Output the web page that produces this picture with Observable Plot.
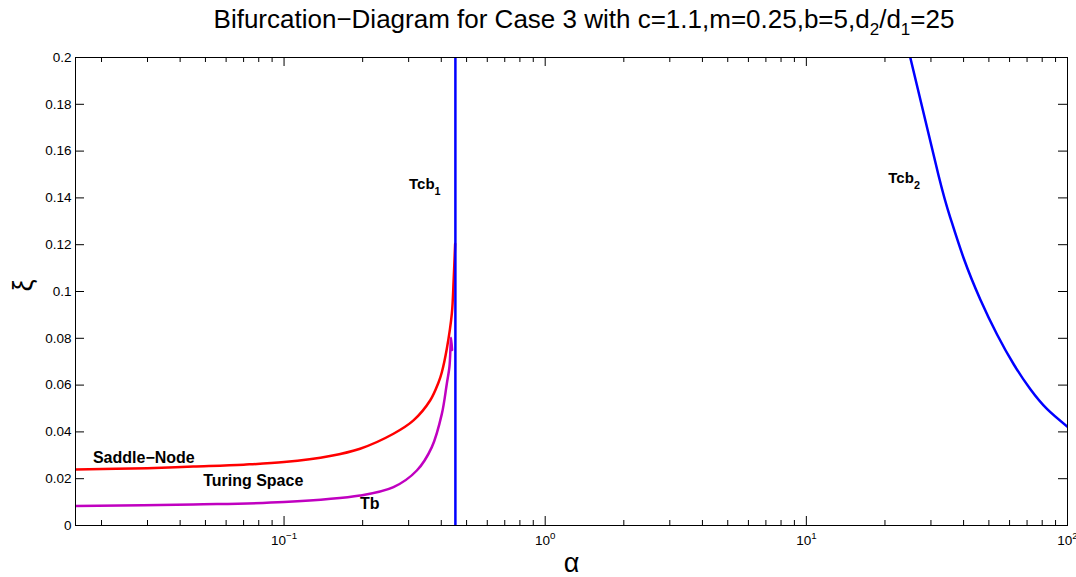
<!DOCTYPE html>
<html><head><meta charset="utf-8">
<script src="https://cdn.jsdelivr.net/npm/d3@7"></script>
<script src="https://cdn.jsdelivr.net/npm/@observablehq/plot@0.6"></script>
<style>
body{margin:0;background:#fff;}
#title{width:1076px;height:35px;box-sizing:border-box;padding-left:92px;text-align:center;font-family:"Liberation Sans",Arial,sans-serif;font-size:26px;line-height:39px;white-space:nowrap;color:#000;overflow:visible;}
#title sub{font-size:17px;line-height:0;vertical-align:-7px;}
</style></head><body>
<div id="title">Bifurcation−Diagram for Case 3 with c=1.1,m=0.25,b=5,d<sub>2</sub>/d<sub>1</sub>=25</div>
<div id="chart"></div>
<script>
// Saddle-Node curve (red)
const snAlpha = [0.0159, 0.03, 0.0449, 0.07, 0.1, 0.15, 0.1955, 0.2624, 0.313, 0.3625, 0.390, 0.402, 0.420, 0.439, 0.446, 0.452];
const snXi    = [0.0239, 0.0245, 0.0252, 0.0260, 0.0271, 0.0297, 0.0328, 0.0392, 0.0449, 0.0534, 0.0610, 0.0655, 0.0755, 0.0905, 0.1047, 0.1204];
// Turing bifurcation curve (magenta)
const tbAlpha = [0.0159, 0.0449, 0.1, 0.1955, 0.2624, 0.3224, 0.368, 0.402, 0.420, 0.430, 0.434, 0.436, 0.440];
const tbXi    = [0.0083, 0.0090, 0.0100, 0.0128, 0.0164, 0.0235, 0.0335, 0.0477, 0.0606, 0.0680, 0.0765, 0.0802, 0.0750];
// Turing-Hopf curve 1 (vertical, blue)
const tcb1Alpha = [0.453];
// Turing-Hopf curve 2 (blue)
const tcb2Alpha = [25.0, 32.1, 35.6, 40.1, 46.4, 53.8, 62.3, 72.1, 83.6, 100];
const tcb2Xi    = [0.2, 0.1495, 0.1315, 0.1140, 0.0965, 0.0815, 0.0688, 0.0582, 0.0497, 0.0422];
// axes
const yTicks = [0, 0.02, 0.04, 0.06, 0.08, 0.1, 0.12, 0.14, 0.16, 0.18, 0.2];
const yTickLabels = ["0","0.02","0.04","0.06","0.08","0.1","0.12","0.14","0.16","0.18","0.2"];
const xMajor = [0.1, 1, 10, 100];
const xTickLabels = ["10^−1","10^0","10^1","10^2"];
const xMinor = [0.02,0.03,0.04,0.05,0.06,0.07,0.08,0.09,0.2,0.3,0.4,0.5,0.6,0.7,0.8,0.9,2,3,4,5,6,7,8,9,20,30,40,50,60,70,80,90];
// annotations
const labelText  = ["Saddle−Node","Turing Space","Tb","Tcb_1","Tcb_2"];
const labelAlpha = [0.01854, 0.0490, 0.1955, 0.301, 20.6];
const labelXi    = [0.0291, 0.0192, 0.0094, 0.1457, 0.1483];

const W = 1076, H = 542, mL = 75, mR = 9, mT = 22, mB = 52;
const PW = W - mL - mR, PH = H - mT - mB;
const sn = snAlpha.map((a,i)=>({alpha:a, xi:snXi[i]}));
const tb = tbAlpha.map((a,i)=>({alpha:a, xi:tbXi[i]}));
const tcb2 = tcb2Alpha.map((a,i)=>({alpha:a, xi:tcb2Xi[i]}));
const yt = yTicks.map((v,i)=>({v, l:yTickLabels[i]}));
const xt = xMajor.map((v,i)=>({v, l:xTickLabels[i]}));
const labels = labelText.map((t,i)=>({t, a:labelAlpha[i], x:labelXi[i]}));

const svg = Plot.plot({
  width: W, height: H, marginLeft: mL, marginRight: mR, marginTop: mT, marginBottom: mB,
  style: {fontFamily: '"Liberation Sans", Arial, sans-serif', fontSize: "13px", background: "white", color: "black", overflow: "visible"},
  x: {type: "log", domain: [0.0159, 100], axis: null},
  y: {domain: [0, 0.2], axis: null},
  marks: [
    Plot.line(sn, {x: "alpha", y: "xi", stroke: "#ff0000", strokeWidth: 2.5, curve: "catmull-rom", clip: true}),
    Plot.line(tb, {x: "alpha", y: "xi", stroke: "#c000c0", strokeWidth: 2.5, curve: "catmull-rom", clip: true}),
    Plot.ruleX(tcb1Alpha, {x: d => d, stroke: "#0000ff", strokeWidth: 2.5}),
    Plot.line(tcb2, {x: "alpha", y: "xi", stroke: "#0000ff", strokeWidth: 2.5, curve: "natural", clip: true}),
    // ticks
    Plot.tickX(xMajor, {x: d => d, insetTop: PH - 9, stroke: "black"}),
    Plot.tickX(xMajor, {x: d => d, insetBottom: PH - 9, stroke: "black"}),
    Plot.tickX(xMinor, {x: d => d, insetTop: PH - 5, stroke: "black"}),
    Plot.tickX(xMinor, {x: d => d, insetBottom: PH - 5, stroke: "black"}),
    Plot.tickY(yTicks, {y: d => d, insetRight: PW - 9, stroke: "black"}),
    Plot.tickY(yTicks, {y: d => d, insetLeft: PW - 9, stroke: "black"}),
    Plot.frame({stroke: "black", strokeWidth: 1}),
    // tick labels
    Plot.text(yt, {y: "v", text: "l", frameAnchor: "left", textAnchor: "end", dx: -4, fontSize: 13.5}),
    Plot.text(xt, {x: "v", text: "l", frameAnchor: "bottom", dy: 19, fontSize: 13.5}),
    // axis labels
    Plot.text(["α"], {frameAnchor: "bottom", dy: 46, fontSize: 27}),
    Plot.text(["ξ"], {frameAnchor: "left", dx: -52, rotate: -90, fontSize: 27}),
    // annotations
    Plot.text(labels, {x: "a", y: "x", text: "t", textAnchor: "start", fontWeight: "bold", fontSize: d => d.t.startsWith("Tcb") ? 15 : 16})
  ]
});

function richify(root){
  const ns = "http://www.w3.org/2000/svg";
  root.querySelectorAll("text").forEach(t => {
    const s = t.textContent;
    const m = s.match(/^(.*?)([\^_])(.+)$/);
    if (!m) return;
    const base = m[1], op = m[2], scr = m[3];
    t.textContent = "";
    const a = document.createElementNS(ns, "tspan"); a.textContent = base; t.appendChild(a);
    const b = document.createElementNS(ns, "tspan"); b.textContent = scr;
    b.setAttribute("font-size", "0.72em");
    b.setAttribute("dy", op === "^" ? "-0.55em" : "0.5em");
    t.appendChild(b);
  });
}
richify(svg);
document.getElementById("chart").appendChild(svg);
</script>
</body></html>
